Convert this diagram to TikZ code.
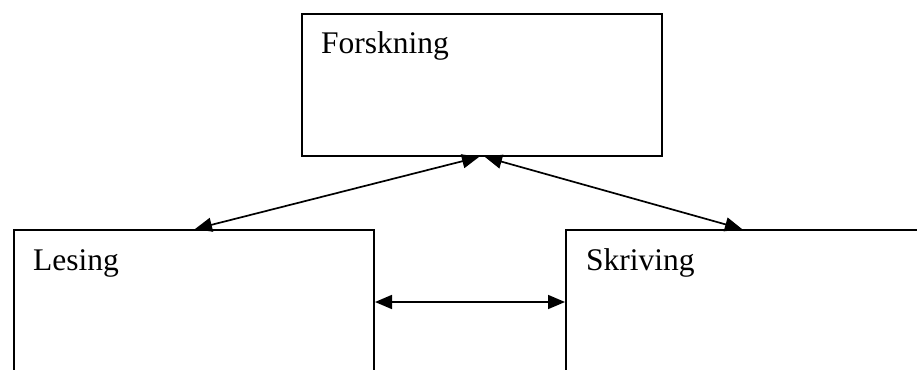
\documentclass[tikz,border=0pt]{standalone}
\usepackage{fontspec}
\setmainfont{Liberation Serif}
\usetikzlibrary{arrows.meta,calc}
\begin{document}
\begin{tikzpicture}[x=1pt,y=-1pt,
  boxstyle/.style={draw,line width=2pt,inner sep=0pt},
  lbl/.style={anchor=base west,inner sep=0pt,font=\fontsize{31.5}{36}\selectfont},
  conn/.style={line width=1.7pt,{Triangle[length=17pt,width=14pt]}-{Triangle[length=17pt,width=14pt]}}]
\clip (0,0) rectangle (917,369);
\fill[white] (0,0) rectangle (917,369);
\node[boxstyle,minimum width=360pt,minimum height=142pt,anchor=north west] (fors) at (301,13) {};
\node[boxstyle,minimum width=360pt,minimum height=200pt,anchor=north west] (les) at (13,229) {};
\node[boxstyle,minimum width=400pt,minimum height=200pt,anchor=north west] (skr) at (565,229) {};
\node[lbl] (tf) at (321,53) {Forskning};
\node[lbl] (tl) at (33,270) {Lesing};
\node[lbl] (ts) at (586,270) {Skriving};
\coordinate (mid) at (0,302);
\coordinate (ltip) at (195,229);
\coordinate (rtip) at (742,229);
\draw[conn] (ltip) -- ([xshift=-3pt]fors.south);
\draw[conn] ([xshift=3pt]fors.south) -- (rtip);
\draw[conn] (les.east |- mid) -- (skr.west |- mid);
\end{tikzpicture}
\end{document}
